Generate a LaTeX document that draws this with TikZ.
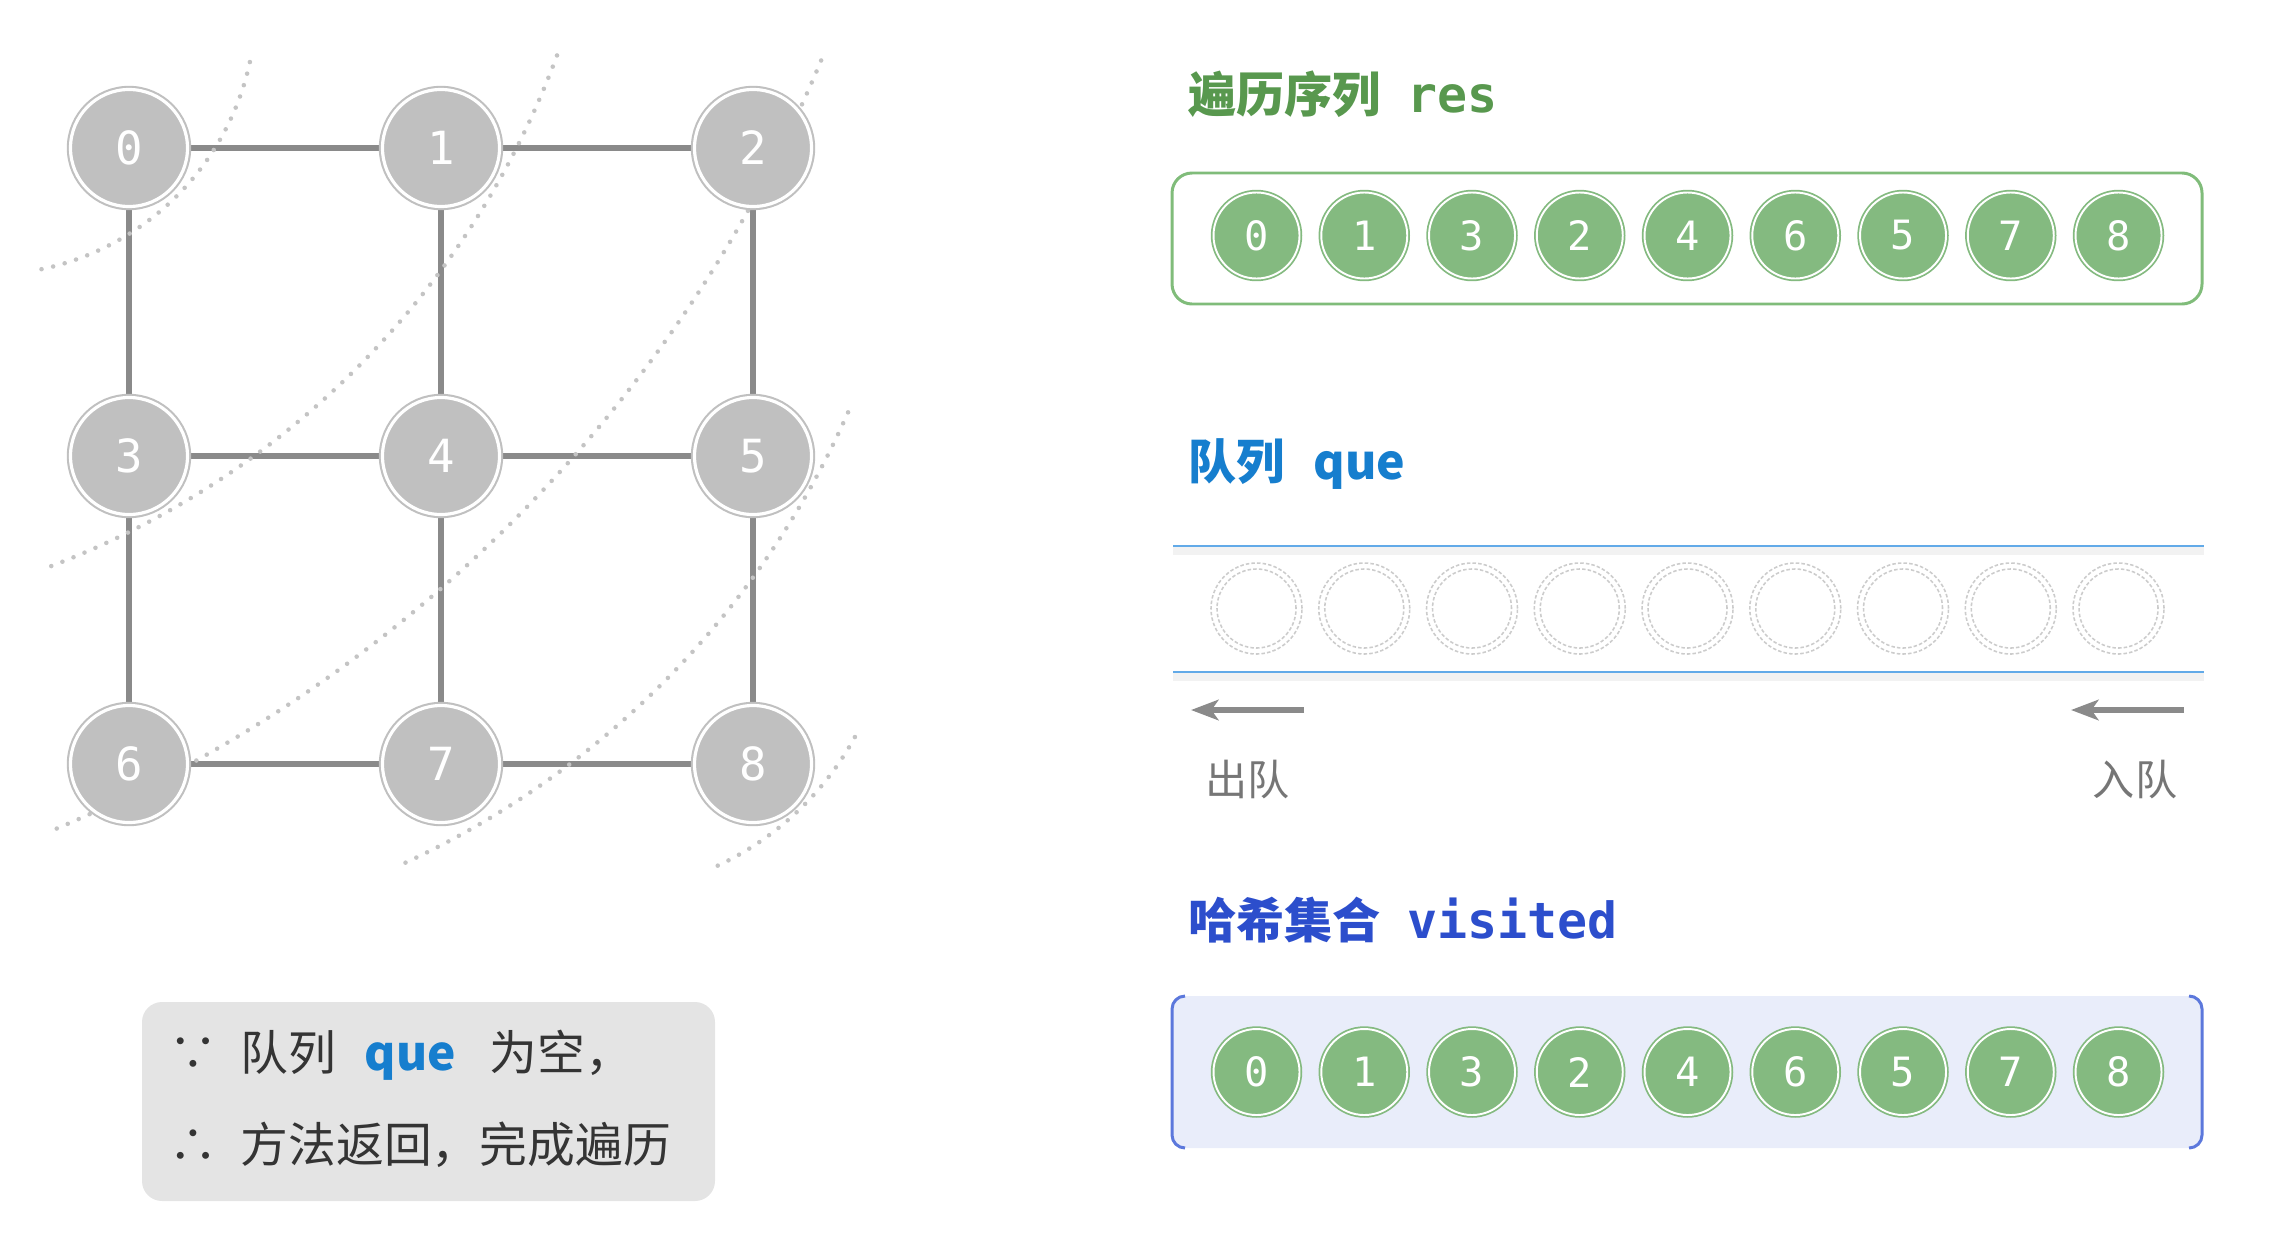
\documentclass[tikz,border=0pt]{standalone}
\usepackage{fontspec}
\setmonofont{DejaVu Sans Mono}
\newfontfamily\cjk{Noto Sans CJK SC}
\usepackage{tikz}
\usetikzlibrary{arrows.meta,backgrounds,positioning}
\definecolor{nodegray}{RGB}{192,192,192}
\definecolor{edgegray}{RGB}{138,138,138}
\definecolor{arcgray}{RGB}{196,196,196}
\definecolor{resgreen}{RGB}{88,152,78}
\definecolor{nodegreen}{RGB}{132,186,128}
\definecolor{boxgreen}{RGB}{128,188,122}
\definecolor{queblue}{RGB}{22,126,206}
\definecolor{lineblue}{RGB}{98,170,232}
\definecolor{visblue}{RGB}{44,78,204}
\definecolor{visfill}{RGB}{233,237,250}
\definecolor{visedge}{RGB}{92,120,220}
\definecolor{sumgray}{RGB}{228,228,228}
\definecolor{textgray}{RGB}{52,52,52}
\definecolor{labelgray}{RGB}{118,118,118}
\newcommand{\fsize}[1]{\fontsize{#1}{#1}\selectfont}

\begin{document}
\begin{tikzpicture}
              [gnode/.style={circle,minimum size=1.17cm,inner sep=0pt,fill=nodegray,draw=nodegray,line width=0.6pt,double=white,double distance=0.9pt,text=white,font=\ttfamily\fsize{13}},
                gedge/.style={draw=edgegray,line width=1.6pt},
                bfsarc/.style={draw=arcgray,line width=1.3pt,line cap=round,dash pattern=on 0pt off 3.4pt},
                lnode/.style={circle,minimum size=0.86cm,inner sep=0pt,fill=nodegreen,draw=nodegreen,line width=0.5pt,double=white,double distance=0.55pt,text=white,font=\ttfamily\fsize{11.5}},
                qline/.style={draw=gray!40,line width=0.45pt,dash pattern=on 1pt off 0.6pt},
                qslot/.style={qline,circle,minimum size=0.91cm,inner sep=0pt},
                qwall/.style={draw=lineblue,line width=0.7pt},
                qarrow/.style={draw=edgegray,line width=1.7pt,-{Stealth[length=7.8pt,width=5.8pt,inset=2pt]}},
                headline/.style={anchor=base west,inner sep=0pt,font=\cjk\bfseries\fsize{13.7}},
                qlabel/.style={anchor=base,inner sep=0pt,text=labelgray,font=\cjk\fsize{12}},
                sumline/.style={anchor=base west,inner sep=0pt,text=textgray,font=\cjk\fsize{13.6}}]
              \useasboundingbox (0,0) rectangle (22.76,-12.47);
              % bfs layers
              \foreach \cx/\cy/\r/\a/\b in {-0.14/-0.05/2.70/-12.2/-78.5,-2.58/2.46/8.69/-20.3/-69.5,-4.99/4.89/14.30/-22.6/-67.5,0.31/-0.52/8.93/-23.8/-65.8,5.90/-5.92/3.02/-28.7/-65.6}
                \draw[bfsarc] (\cx,\cy) ++(\a:\r) arc[start angle=\a,end angle=\b,radius=\r];
              % grid graph
              \foreach \n in {0,...,8}
                \node[gnode] (g\n) at ({1.29+3.12*mod(\n,3)},{-1.48-3.08*int(\n/3)}) {\n};
              \begin{scope}[on background layer]
                \foreach \a/\b in {0/1,1/2,3/4,4/5,6/7,7/8,0/3,3/6,1/4,4/7,2/5,5/8}
                  \draw[gedge] (g\a) -- (g\b);
              \end{scope}
              % res, que, visited
              \draw[draw=boxgreen,line width=0.85pt,rounded corners=0.2cm] (11.72,-1.73) rectangle (22.02,-3.04);
              \draw[black!5,line width=3pt] (11.73,-5.50) -- (22.04,-5.50);
              \draw[black!5,line width=3pt] (11.73,-6.76) -- (22.04,-6.76);
              \draw[qwall] (11.73,-5.46) -- (22.04,-5.46);
              \draw[qwall] (11.73,-6.72) -- (22.04,-6.72);
              \fill[visfill,rounded corners=0.13cm] (11.72,-9.96) rectangle (22.02,-11.48);
              \draw[draw=visedge,line width=0.85pt,rounded corners=0.13cm] (11.85,-9.96) -- (11.72,-9.96) -- (11.72,-11.48) -- (11.85,-11.48);
              \draw[draw=visedge,line width=0.85pt,rounded corners=0.13cm] (21.89,-9.96) -- (22.02,-9.96) -- (22.02,-11.48) -- (21.89,-11.48);
              \foreach \v [count=\i from 0] in {0,1,3,2,4,6,5,7,8} {
                \node[lnode] (res\i) at ({12.565+1.0775*\i},-2.355) {\v};
                \node[qslot] (que\i) at ({12.565+1.0775*\i},-6.085) {};
                \draw[qline] (que\i.center) circle[radius=0.395];
                \node[lnode] (vis\i) at ({12.565+1.0775*\i},-10.72) {\v};
              }
              \node[headline,text=resgreen] (restitle) at (11.875,-1.12) {遍历序列\hspace{0.55em}{\ttfamily\fsize{14.2}res}};
              \node[headline,text=queblue] (quetitle) at (11.875,-4.79) {队列\hspace{0.6em}que};
              \node[headline,text=visblue] (vistitle) at (11.875,-9.38) {哈希集合\hspace{0.55em}{\ttfamily\fsize{14.2}visited}};
              \coordinate (deqfrom) at (13.04,-7.10);
              \coordinate (deqto) at (11.91,-7.10);
              \coordinate (enqfrom) at (21.84,-7.10);
              \coordinate (enqto) at (20.71,-7.10);
              \draw[qarrow] (deqfrom) -- (deqto);
              \draw[qarrow] (enqfrom) -- (enqto);
              \node[qlabel] (deqtext) at (12.475,-7.95) {出队};
              \node[qlabel] (enqtext) at (21.35,-7.95) {入队};
              % summary
              \fill[sumgray,rounded corners=0.2cm] (1.42,-10.02) rectangle (7.15,-12.01);
              \node[sumline,anchor=base] (because) at (1.935,-10.70) {∵};
              \node[sumline] (sum1) at (2.40,-10.70) {队列\hspace{0.6em}{\bfseries\color{queblue}que}\hspace{0.7em}为空，};
              \node[sumline,anchor=base] (therefore) at (1.935,-11.62) {∴};
              \node[sumline] (sum2) at (2.40,-11.62) {方法返回，完成遍历};
            \end{tikzpicture}
\end{document}
